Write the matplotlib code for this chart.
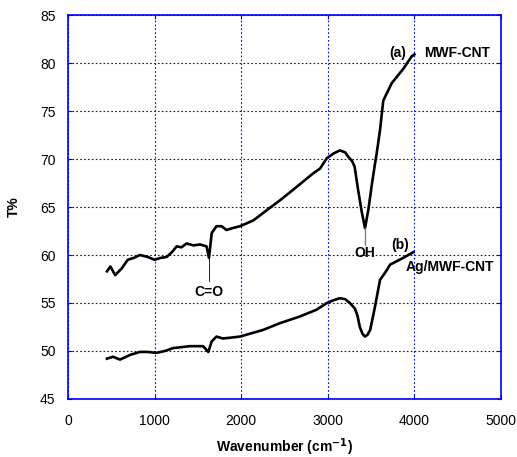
import matplotlib
matplotlib.use("Agg")
import matplotlib.pyplot as plt

plt.rcParams['font.family'] = ['Liberation Sans', 'DejaVu Sans']

# curve (a) MWF-CNT
wn_a = [450, 490, 545, 620, 690, 760, 830, 920, 1000, 1070, 1140, 1200, 1255, 1310, 1370,
        1450, 1525, 1600, 1628, 1660, 1715, 1775, 1830, 1900, 1986, 2140, 2300, 2448, 2600,
        2830, 2910, 2990, 3070, 3140, 3200, 3240, 3280, 3310, 3350, 3390, 3430, 3470, 3505,
        3540, 3565, 3603, 3641, 3738, 3872, 3969, 4000]
t_a = [58.3, 58.8, 57.9, 58.6, 59.5, 59.7, 60.0, 59.8, 59.5, 59.7, 59.8, 60.3, 60.9, 60.8, 61.2,
       61.0, 61.1, 60.9, 59.7, 62.3, 63.0, 63.0, 62.6, 62.8, 63.0, 63.6, 64.7, 65.7, 66.8,
       68.5, 69.0, 70.1, 70.6, 70.9, 70.7, 70.2, 69.8, 69.2, 66.8, 64.6, 62.8, 64.8, 67.1,
       69.2, 70.6, 73.0, 76.1, 77.9, 79.4, 80.7, 80.9]

# curve (b) Ag/MWF-CNT
wn_b = [450, 520, 600, 720, 830, 920, 1020, 1120, 1215, 1310, 1410, 1560, 1620, 1660, 1715,
        1790, 1986, 2255, 2448, 2680, 2870, 2990, 3070, 3140, 3200, 3255, 3315, 3345, 3370,
        3400, 3430, 3460, 3490, 3545, 3603, 3680, 3720, 3850, 3990]
t_b = [49.2, 49.4, 49.1, 49.6, 49.9, 49.9, 49.8, 50.0, 50.3, 50.4, 50.5, 50.5, 49.9, 51.0, 51.5,
       51.3, 51.5, 52.2, 52.9, 53.6, 54.3, 55.0, 55.3, 55.5, 55.4, 55.0, 54.4, 53.6, 52.5,
       51.8, 51.5, 51.7, 52.2, 54.6, 57.4, 58.4, 59.0, 59.6, 60.3]

fig = plt.figure(figsize=(5.17, 4.57), dpi=100)
ax = fig.add_axes([0.1315, 0.127, 0.8375, 0.84])

ax.plot(wn_a, t_a, color='black', lw=1.9)
ax.plot(wn_b, t_b, color='black', lw=1.9)

ax.set_xlim(0, 5000)
ax.set_ylim(45, 85)
ax.set_xticks(range(0, 5001, 1000))
ax.set_yticks(range(45, 86, 5))
ax.grid(True, color='blue', linestyle=(0, (1.5, 2)), lw=0.8)
for s in ax.spines.values():
    s.set_color('blue')
    s.set_linewidth(1.2)
ax.tick_params(direction='in', color='blue', length=3, labelsize=10,
               top=True, right=True)
ax.tick_params(axis='x', pad=11)
ax.tick_params(axis='y', pad=9)

ax.set_xlabel('Wavenumber (cm$^{\\mathbf{-1}}$)', fontsize=10, fontweight='bold', labelpad=6)
ax.set_ylabel('T%', fontsize=10, fontweight='bold', labelpad=14)

# annotations
ax.plot([1628, 1628], [59.7, 57.3], color='black', lw=0.6)
ax.text(1628, 56.9, 'C=O', ha='center', va='top', fontsize=10, fontweight='bold')
ax.plot([3430, 3430], [62.8, 61.0], color='grey', lw=1.0)
ax.text(3430, 60.9, 'OH', ha='center', va='top', fontsize=10, fontweight='bold')
ax.text(3900, 81.0, '(a)', ha='right', va='center', fontsize=10, fontweight='bold')
ax.text(4110, 81.0, 'MWF-CNT', ha='left', va='center', fontsize=10, fontweight='bold')
ax.text(3935, 61.0, '(b)', ha='right', va='center', fontsize=10, fontweight='bold')
ax.text(3900, 58.8, 'Ag/MWF-CNT', ha='left', va='center', fontsize=10, fontweight='bold')

fig.savefig('out.png', dpi=100)
